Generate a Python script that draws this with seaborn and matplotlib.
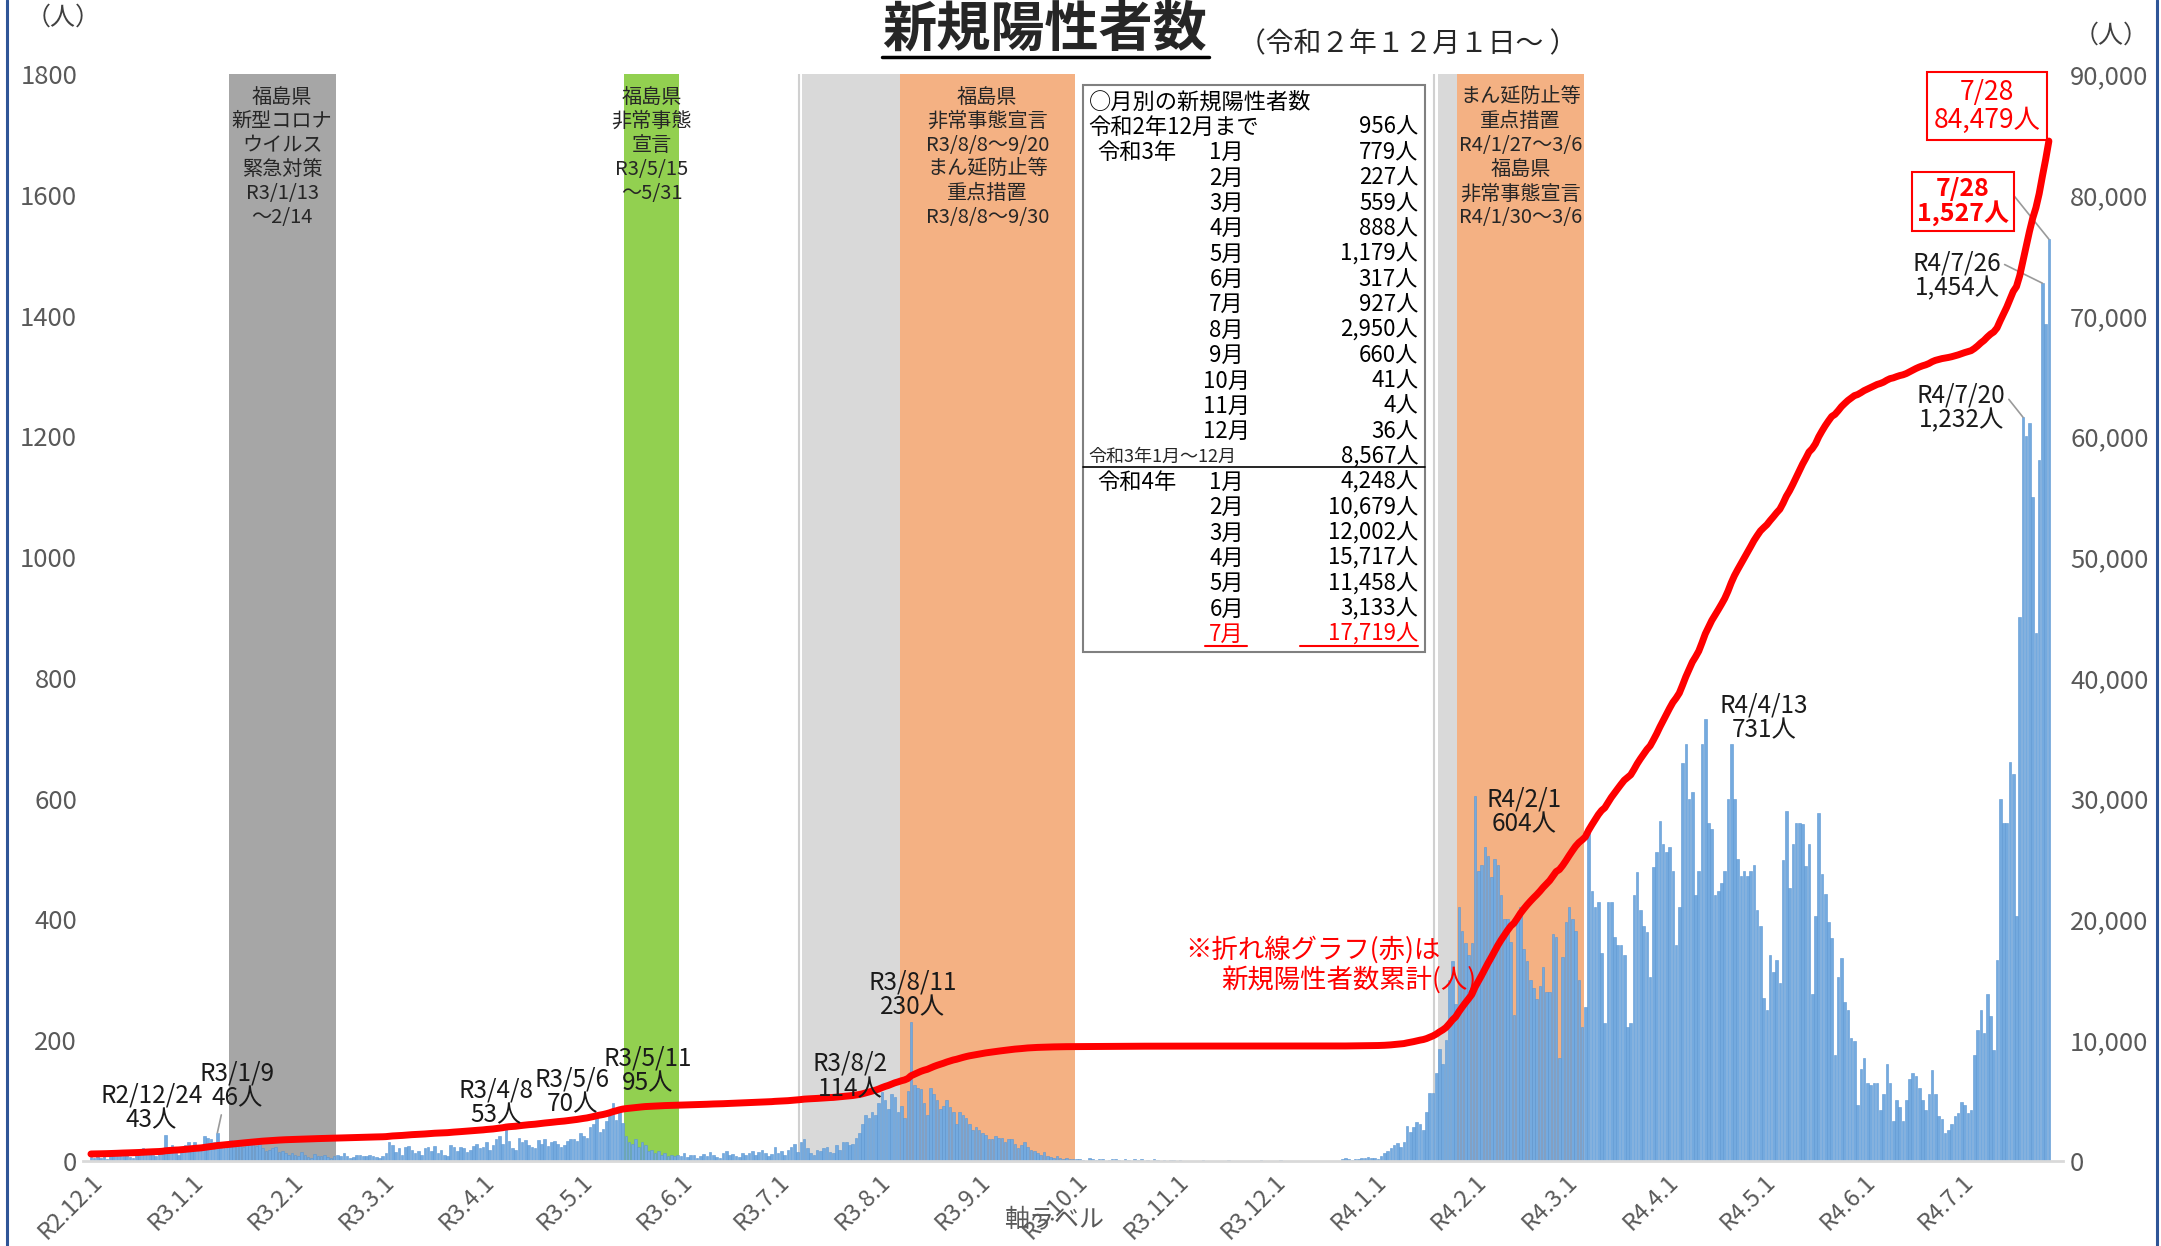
import numpy as np
import pandas as pd
import seaborn as sns
import matplotlib.pyplot as plt
from matplotlib.patches import Rectangle
from matplotlib.lines import Line2D
from matplotlib.ticker import FuncFormatter

# daily new positives (persons), R2.12.1 - R4.7.28
dec20 = [6,4,8,5,10,3,7,12,9,15,8,11,6,5,14,10,20,12,16,9,8,13,18,43,22,25,14,10,20,26,30]
jan21 = [22,30,18,25,40,38,36,30,46,28,20,28,34,30,25,30,22,26,25,28,24,27,20,15,18,20,22,14,16,12,10]
feb21 = [12,10,8,14,9,6,5,11,8,7,10,6,4,8,9,7,12,8,5,6,10,9,8,8,9,7,6,5]
mar21 = [8,12,30,25,14,20,10,22,24,18,12,16,9,20,22,15,24,12,18,10,8,26,22,16,22,20,14,18,24,28,20]
apr21 = [22,30,18,26,35,40,28,53,32,20,18,38,30,34,25,22,20,34,28,36,24,30,32,28,22,26,33,36,36,32]
may21 = [45,40,38,55,60,70,48,52,65,75,95,68,80,62,40,30,28,35,22,30,25,15,18,12,15,10,12,8,10,7,9]
jun21 = [8,12,6,10,9,5,7,11,8,14,10,6,4,12,15,9,11,8,6,13,10,12,16,9,14,18,12,8,11,23]
jul21 = [12,15,10,18,22,28,14,30,35,20,12,10,18,15,20,22,14,12,25,18,30,30,26,28,38,45,60,75,70,80,75]
aug21 = [95,114,100,85,110,105,80,90,70,115,230,125,120,118,95,75,120,110,100,85,90,100,88,80,60,80,75,70,60,50,55]
sep21 = [50,45,42,35,35,40,38,38,30,35,35,28,20,25,30,22,18,15,12,10,14,8,6,5,7,4,3,5,2,3]
oct21 = [2,3,1,0,4,2,1,3,2,0,1,2,3,1,0,2,1,0,3,1,2,0,1,0,2,1,0,1,0,1,1]
nov21 = [0,1,0,0,0,0,0,0,1,0,0,0,0,0,0,0,1,0,0,0,0,0,0,0,0,0,1,0,0,0]
dec21 = [0,0,1,0,0,0,0,0,0,0,0,0,0,0,0,0,0,0,0,0,0,2,4,3,1,2,3,5,4,6,5]
jan22 = [5,3,8,12,15,20,25,29,22,30,58,48,55,64,60,50,80,112,112,145,185,160,200,300,330,260,420,380,360,340,360]
feb22 = [604,480,490,520,505,470,500,490,440,400,400,363,241,400,420,350,330,300,286,267,290,320,280,280,376,370,170,337]
mar22 = [395,420,400,380,300,222,254,543,447,421,428,344,228,428,428,370,357,357,340,222,228,440,479,415,389,378,305,486,511,563,524]
apr22 = [511,520,480,357,420,659,691,600,610,440,480,691,731,560,550,440,447,460,480,600,691,600,500,472,480,472,480,490,416,389]
may22 = [270,250,341,313,332,295,498,579,452,525,560,560,558,488,525,276,406,576,475,442,396,369,175,304,336,263,249,203,198,92,152]
jun22 = [170,129,125,129,129,83,111,160,129,65,101,88,65,101,135,145,140,120,101,83,111,150,111,74,69,46,51,60,74,78]
jul22 = [97,92,78,83,175,217,249,212,276,240,184,332,600,560,560,660,640,406,900,1232,1200,1223,1100,874,1161,1454,1387,1527]

# monthly table
until_r2_dec = 956
r3_months = ['1月','2月','3月','4月','5月','6月','7月','8月','9月','10月','11月','12月']
r3_counts = [779,227,559,888,1179,317,927,2950,660,41,4,36]
r4_months = ['1月','2月','3月','4月','5月','6月','7月']
r4_counts = [4248,10679,12002,15717,11458,3133,17719]

tick_labels = ['R2.12.1','R3.1.1','R3.2.1','R3.3.1','R3.4.1','R3.5.1','R3.6.1','R3.7.1',
               'R3.8.1','R3.9.1','R3.10.1','R3.11.1','R3.12.1','R4.1.1','R4.2.1','R4.3.1',
               'R4.4.1','R4.5.1','R4.6.1','R4.7.1']

# measures periods
bands = [('2021-01-13','2021-02-14','#a6a6a6','福島県\n新型コロナ\nウイルス\n緊急対策\nR3/1/13\n～2/14'),
         ('2021-05-15','2021-05-31','#92d050','福島県\n非常事態\n宣言\nR3/5/15\n～5/31'),
         ('2021-07-09','2021-08-07','#d9d9d9',''),
         ('2021-08-08','2021-09-30','#f4b183','福島県\n非常事態宣言\nR3/8/8～9/20\nまん延防止等\n重点措置\nR3/8/8～9/30'),
         ('2022-01-21','2022-01-26','#d9d9d9',''),
         ('2022-01-27','2022-03-06','#f4b183','まん延防止等\n重点措置\nR4/1/27～3/6\n福島県\n非常事態宣言\nR4/1/30～3/6')]

daily = np.concatenate([dec20,jan21,feb21,mar21,apr21,may21,jun21,jul21,aug21,sep21,oct21,nov21,
                        dec21,jan22,feb22,mar22,apr22,may22,jun22,jul22])
dates = pd.date_range('2020-12-01', periods=len(daily))
df = pd.DataFrame({'day': np.arange(len(daily)), 'new': daily})
base = until_r2_dec - sum(dec20)
df['cum'] = base + df['new'].cumsum()

def day_of(s):
    return (pd.Timestamp(s) - dates[0]).days

sns.set_style('white')
plt.rcParams['font.family'] = ['Noto Sans CJK JP', 'DejaVu Sans']

W, H = 1568, 904
def fx(x): return x / W
def fy(y): return 1 - y / H

fig = plt.figure(figsize=(21.61, 12.46), dpi=100)
ax = fig.add_axes([fx(60), fy(842), fx(1497) - fx(60), fy(54) - fy(842)])

for s, e, c, txt in bands:
    a, b = day_of(s), day_of(e)
    ax.axvspan(a - 0.5, b + 0.5, color=c, lw=0, zorder=0)
    if txt:
        ax.text((a + b) / 2, 1780, txt, ha='center', va='top', fontsize=14.5,
                linespacing=1.2, color='#262626', zorder=1)
ax.axvline(day_of('2021-07-08') - 0.6, color='#d0d0d0', lw=1.5, zorder=0)
ax.axvline(day_of('2022-01-20') - 0.6, color='#d0d0d0', lw=1.5, zorder=0)

sns.barplot(data=df, x='day', y='new', native_scale=True, color='#74aadf', saturation=1,
            width=0.8, linewidth=0.4, edgecolor='#5b96d2', errorbar=None, ax=ax, zorder=2)

ax2 = ax.twinx()
sns.lineplot(data=df, x='day', y='cum', color='#ff0000', linewidth=5, ax=ax2, zorder=3)

ax.set_xlim(-2.55, 608.4)
ax.set_ylim(0, 1800)
ax2.set_ylim(0, 90000)
ax.set_yticks(range(0, 1801, 200))
ax2.set_yticks(range(0, 90001, 10000))
ax2.yaxis.set_major_formatter(FuncFormatter(lambda v, p: f'{int(v):,}'))
ticks = [i for i, d in enumerate(dates) if d.day == 1]
ax.set_xticks(ticks)
ax.set_xticklabels(tick_labels, rotation=45, ha='right', rotation_mode='anchor')
for a_ in (ax, ax2):
    a_.set_xlabel('')
    a_.set_ylabel('')
    for sp in a_.spines.values():
        sp.set_visible(False)
ax.spines['bottom'].set_visible(True)
ax.spines['bottom'].set_color('#d9d9d9')
ax.spines['bottom'].set_linewidth(2)
ax.tick_params(axis='y', length=0, labelsize=18.5, labelcolor='#595959', pad=4)
ax2.tick_params(axis='y', length=0, labelsize=18.5, labelcolor='#595959', pad=5)
ax.tick_params(axis='x', length=6, width=1.2, color='#bfbfbf', labelsize=17,
               labelcolor='#595959', pad=1)

# title
fig.text(fx(758), fy(22), '新規陽性者数', ha='center', va='center', fontsize=39, fontweight='bold')
fig.add_artist(Line2D([fx(640), fx(877)], [fy(41), fy(41)], color='black', lw=2.5))
fig.text(fx(898), fy(32), '（令和２年１２月１日～ ）', ha='left', va='center', fontsize=20)
fig.text(fx(46), fy(13), '（人）', ha='center', va='center', fontsize=18, color='#404040')
fig.text(fx(1532), fy(26), '（人）', ha='center', va='center', fontsize=18, color='#404040')
fig.text(fx(765), fy(885), '軸ラベル', ha='center', va='center', fontsize=18, color='#595959')

# peak labels
labels = [('R2/12/24\n43人', 110, 804, None),
          ('R3/1/9\n46人', 172, 788, '2021-01-09'),
          ('R3/4/8\n53人', 360, 800, None),
          ('R3/5/6\n70人', 415, 792, None),
          ('R3/5/11\n95人', 470, 777, None),
          ('R3/8/2\n114人', 617, 781, None),
          ('R3/8/11\n230人', 662, 722, None),
          ('R4/2/1\n604人', 1106, 589, None),
          ('R4/4/13\n731人', 1280, 521, None),
          ('R4/7/20\n1,232人', 1423, 296, '2022-07-20'),
          ('R4/7/26\n1,454人', 1420, 200, '2022-07-26')]
for txt, x, y, d in labels:
    if d is None:
        fig.text(fx(x), fy(y), txt, ha='center', va='center', fontsize=17.5,
                 linespacing=0.95, color='#1a1a1a')
    else:
        i = day_of(d)
        rel = (0.3, 0) if d.startswith('2021') else (1, 0.75)
        ax.annotate(txt, xy=(i, df['new'][i]), xytext=(fx(x), fy(y)), textcoords='figure fraction',
                    ha='center', va='center', fontsize=17.5, linespacing=0.95, color='#1a1a1a',
                    annotation_clip=False,
                    arrowprops=dict(arrowstyle='-', color='#9a9a9a', lw=1.2, shrinkA=0, shrinkB=0,
                                    relpos=rel))

i = day_of('2022-07-28')
ax.annotate('7/28\n1,527人', xy=(i, df['new'][i]), xytext=(fx(1424), fy(146)),
            textcoords='figure fraction', ha='center', va='center', fontsize=18,
            fontweight='bold', color='#ff0000', linespacing=0.95, annotation_clip=False,
            bbox=dict(boxstyle='square,pad=0.2', fc='white', ec='#ff0000', lw=1.5),
            arrowprops=dict(arrowstyle='-', color='#9a9a9a', lw=1.2, shrinkA=0, shrinkB=0,
                            relpos=(1, 0.75)))
fig.text(fx(1442), fy(77), '7/28\n84,479人', ha='center', va='center', fontsize=19,
         color='#ff0000', linespacing=1.05,
         bbox=dict(boxstyle='square,pad=0.25', fc='white', ec='#ff0000', lw=1.5))

fig.text(fx(860), fy(689), '※折れ線グラフ(赤)は', ha='left', va='center', fontsize=19, color='#ff0000')
fig.text(fx(886), fy(711), '新規陽性者数累計(人)', ha='left', va='center', fontsize=19, color='#ff0000')

# monthly table
fig.add_artist(Rectangle((fx(786), fy(473)), fx(1034) - fx(786), fy(62) - fy(473),
                         transform=fig.transFigure, fc='white', ec='#808080', lw=1.5, zorder=5))
fig.add_artist(Line2D([fx(786), fx(1034)], [fy(339), fy(339)], color='black', lw=1.2, zorder=6))
row = lambda k: fy(74 + 18.4 * k)
kw = dict(va='center', fontsize=16, color='black', zorder=7)
fig.text(fx(790), row(0), '○月別の新規陽性者数', ha='left', **kw)
fig.text(fx(790), row(1), '令和2年12月まで', ha='left', **kw)
fig.text(fx(1029), row(1), f'{until_r2_dec:,}人', ha='right', **kw)
fig.text(fx(796), row(2), '令和3年', ha='left', **kw)
for k, (m, c) in enumerate(zip(r3_months, r3_counts)):
    fig.text(fx(890), row(2 + k), m, ha='center', **kw)
    fig.text(fx(1029), row(2 + k), f'{c:,}人', ha='right', **kw)
fig.text(fx(790), row(14), '令和3年1月～12月', ha='left', va='center', fontsize=13, zorder=7)
fig.text(fx(1029), row(14), f'{sum(r3_counts):,}人', ha='right', **kw)
fig.text(fx(796), row(15), '令和4年', ha='left', **kw)
for k, (m, c) in enumerate(zip(r4_months, r4_counts)):
    col = '#ff0000' if k == len(r4_months) - 1 else 'black'
    kw2 = dict(kw, color=col)
    fig.text(fx(890), row(15 + k), m, ha='center', **kw2)
    fig.text(fx(1029), row(15 + k), f'{c:,}人', ha='right', **kw2)
fig.add_artist(Line2D([fx(874), fx(905)], [fy(469), fy(469)], color='#ff0000', lw=1.5, zorder=7))
fig.add_artist(Line2D([fx(943), fx(1029)], [fy(469), fy(469)], color='#ff0000', lw=1.5, zorder=7))

# frame lines at the sides
fig.add_artist(Line2D([fx(5), fx(5)], [0, 1], color='#2f5597', lw=2.2))
fig.add_artist(Line2D([fx(1565), fx(1565)], [0, 1], color='#2f5597', lw=2.2))

fig.savefig('out.png', dpi=100)
